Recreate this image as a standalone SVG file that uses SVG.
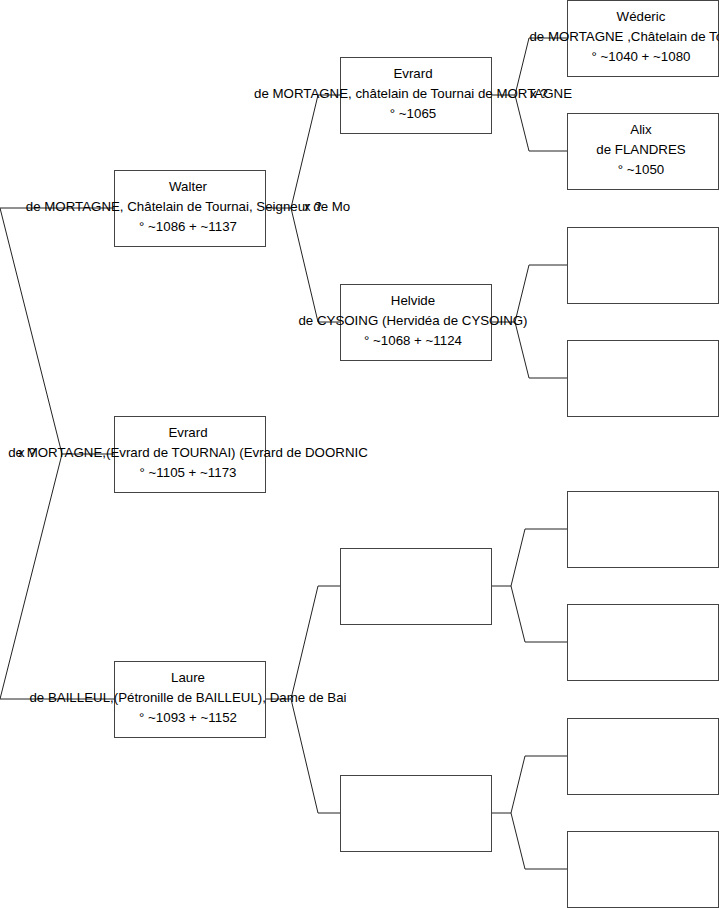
<svg xmlns="http://www.w3.org/2000/svg" width="719" height="908" viewBox="0 0 719 908">
<style>
.box{fill:#fff;stroke:#444;stroke-width:1}
.c{fill:none;stroke:#222;stroke-width:1}
text{font-family:"Liberation Sans",Arial,sans-serif;font-size:13.3px;fill:#000}
.t{text-anchor:middle}
</style>
<rect width="719" height="908" fill="#fff"/>
<g id="connectors">
<polyline class="c" points="114,208 0,208 62,454 114,454"/>
<polyline class="c" points="62,454 0,699 114,699"/>
<polyline class="c" points="265,208 291,208 318,95 340,95"/>
<polyline class="c" points="291,208 318,322 340,322"/>
<polyline class="c" points="265,699 291,699 318,586 340,586"/>
<polyline class="c" points="291,699 318,813 340,813"/>
<polyline class="c" points="491,95 515,95 529,38 567,38"/>
<polyline class="c" points="515,95 529,151 567,151"/>
<polyline class="c" points="491,322 515,322 529,265 567,265"/>
<polyline class="c" points="515,322 529,378 567,378"/>
<polyline class="c" points="491,586 511,586 525,529 567,529"/>
<polyline class="c" points="511,586 525,642 567,642"/>
<polyline class="c" points="491,813 511,813 525,756 567,756"/>
<polyline class="c" points="511,813 525,869 567,869"/>
<text x="18" y="457">x ?</text>
<text x="304" y="211">x ?</text>
<text x="530" y="98">x ?</text>
</g>
<g id="n-walter"><rect class="box" x="114.5" y="170.5" width="151" height="76"/>
<text class="t" x="188" y="191">Walter</text>
<text class="t" x="188" y="211">de MORTAGNE, Châtelain de Tournai, Seigneur de Mo</text>
<text class="t" x="188" y="231">° ~1086 + ~1137</text></g>
<g id="n-evrard2"><rect class="box" x="114.5" y="416.5" width="151" height="76"/>
<text class="t" x="188" y="437">Evrard</text>
<text class="t" x="188" y="457">de MORTAGNE,(Evrard de TOURNAI) (Evrard de DOORNIC</text>
<text class="t" x="188" y="477">° ~1105 + ~1173</text></g>
<g id="n-laure"><rect class="box" x="114.5" y="661.5" width="151" height="76"/>
<text class="t" x="188" y="682">Laure</text>
<text class="t" x="188" y="702">de BAILLEUL,(Pétronille de BAILLEUL), Dame de Bai</text>
<text class="t" x="188" y="722">° ~1093 + ~1152</text></g>
<g id="n-evrard1"><rect class="box" x="340.5" y="57.5" width="151" height="76"/>
<text class="t" x="413" y="78">Evrard</text>
<text class="t" x="413" y="98">de MORTAGNE, châtelain de Tournai de MORTAGNE</text>
<text class="t" x="413" y="118">° ~1065</text></g>
<g id="n-helvide"><rect class="box" x="340.5" y="284.5" width="151" height="76"/>
<text class="t" x="413" y="305">Helvide</text>
<text class="t" x="413" y="325">de CYSOING (Hervidéa de CYSOING)</text>
<text class="t" x="413" y="345">° ~1068 + ~1124</text></g>
<g id="n-e1"><rect class="box" x="340.5" y="548.5" width="151" height="76"/></g>
<g id="n-e2"><rect class="box" x="340.5" y="775.5" width="151" height="76"/></g>
<g id="n-wederic"><rect class="box" x="567.5" y="0.5" width="151" height="76"/>
<text class="t" x="641" y="21">Wéderic</text>
<text class="t" x="641" y="41">de MORTAGNE ,Châtelain de Tournai</text>
<text class="t" x="641" y="61">° ~1040 + ~1080</text></g>
<g id="n-alix"><rect class="box" x="567.5" y="113.5" width="151" height="76"/>
<text class="t" x="641" y="134">Alix</text>
<text class="t" x="641" y="154">de FLANDRES</text>
<text class="t" x="641" y="174">° ~1050</text></g>
<g id="n-e3"><rect class="box" x="567.5" y="227.5" width="151" height="76"/></g>
<g id="n-e4"><rect class="box" x="567.5" y="340.5" width="151" height="76"/></g>
<g id="n-e5"><rect class="box" x="567.5" y="491.5" width="151" height="76"/></g>
<g id="n-e6"><rect class="box" x="567.5" y="604.5" width="151" height="76"/></g>
<g id="n-e7"><rect class="box" x="567.5" y="718.5" width="151" height="76"/></g>
<g id="n-e8"><rect class="box" x="567.5" y="831.5" width="151" height="76"/></g>
</svg>
